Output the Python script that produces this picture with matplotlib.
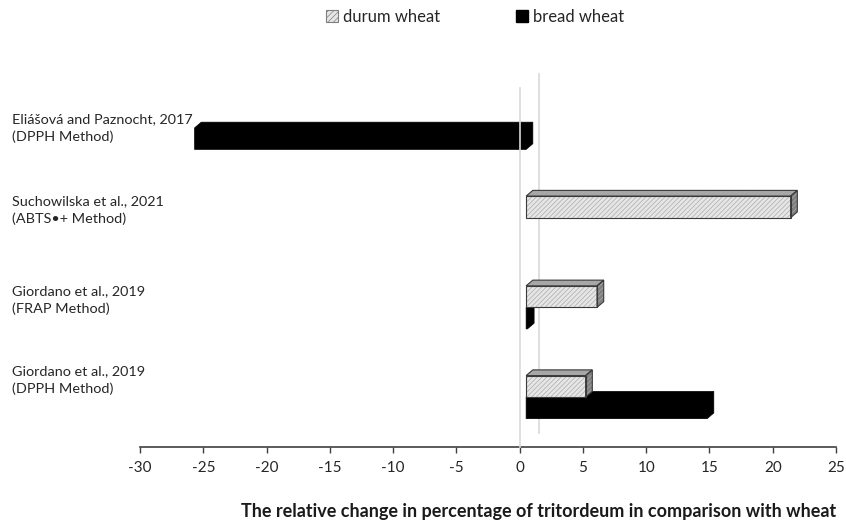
"""Relative change (%) of tritordeum vs. durum / bread wheat, drawn as
Excel-style 3D horizontal bars (front face + top face + side face)."""
import matplotlib
matplotlib.use("Agg")
import matplotlib.pyplot as plt
from matplotlib.patches import Polygon, Patch
from matplotlib.transforms import ScaledTranslation

plt.rcParams["font.family"] = ["Lato", "DejaVu Sans"]
plt.rcParams["hatch.linewidth"] = 0.5

# studies listed top to bottom
studies = [
    "Eliášová and Paznocht, 2017\n(DPPH Method)",
    "Suchowilska et al., 2021\n(ABTS•+ Method)",
    "Giordano et al., 2019\n(FRAP Method)",
    "Giordano et al., 2019\n(DPPH Method)",
]
durum = [None, 20.9, 5.6, 4.7]
bread = [-26.2, None, 0.1, 14.3]
xticks = list(range(-30, 30, 5))

W, H, DPI = 846, 524, 100
BAR_H = 0.24          # bar thickness in category units
DEPTH_PX = (6.7, 5.7)  # 3D depth of each bar, pixels
FRONT_PX = (6.5, 5.0)  # bar front plane offset from the floor edge, pixels
WALL_PX = (19.0, 14.0)  # back wall offset, pixels

fig = plt.figure(figsize=(W / DPI, H / DPI), dpi=DPI)
ax = fig.add_axes([140 / W, (H - 447) / H, 696 / W, 359 / H])
n = len(studies)
ax.set_xlim(-30, 25)
ax.set_ylim(-0.5, n - 0.5)


def px_shift(dx, dy):
    return ax.transData + ScaledTranslation(dx / DPI, dy / DPI, fig.dpi_scale_trans)


# depth in data units
p0 = ax.transData.transform((0, 0))
p1 = ax.transData.transform((1, 1))
ddx = DEPTH_PX[0] / (p1[0] - p0[0])
ddy = DEPTH_PX[1] / (p1[1] - p0[1])
front = px_shift(*FRONT_PX)

# zero lines on the floor front and the back wall
ax.plot([0, 0], [-0.5, n - 0.5], color="#d9d9d9", lw=1.2, zorder=1,
        transform=px_shift(*WALL_PX), clip_on=False)
ax.plot([0, 0], [-0.5, n - 0.5], color="#d9d9d9", lw=1.2, zorder=6,
        clip_on=False)


def bar3d(y0, value, kind, z):
    if value is None:
        return
    lo, hi = min(0, value), max(0, value)
    y1 = y0 + BAR_H
    if kind == "bread":
        # solid black: one outline for the whole box
        outline = [(lo, y0), (hi, y0), (hi + ddx, y0 + ddy), (hi + ddx, y1 + ddy),
                   (lo + ddx, y1 + ddy), (lo, y1)]
        ax.add_patch(Polygon(outline, closed=True, facecolor="black",
                             edgecolor="black", lw=0.5, transform=front,
                             zorder=z, clip_on=False))
        return
    front_face = [(lo, y0), (hi, y0), (hi, y1), (lo, y1)]
    top_face = [(lo, y1), (hi, y1), (hi + ddx, y1 + ddy), (lo + ddx, y1 + ddy)]
    side_face = [(hi, y0), (hi + ddx, y0 + ddy), (hi + ddx, y1 + ddy), (hi, y1)]
    faces = [(top_face, "#a6a6a6"), (side_face, "#7f7f7f"), (front_face, "#e6e6e6")]
    for face, fc in faces:
        ax.add_patch(Polygon(face, closed=True, facecolor=fc, edgecolor="#ababab",
                             lw=0, hatch="///////", transform=front, zorder=z,
                             clip_on=False))
        ax.add_patch(Polygon(face, closed=True, facecolor="none",
                             edgecolor="#3a3a3a", lw=0.8, transform=front,
                             zorder=z + 0.1, clip_on=False))


for i in range(n):
    yc = n - 1 - i
    bar3d(yc - BAR_H, bread[i], "bread", 3)
    bar3d(yc, durum[i], "durum", 4)

# axis styling
for side in ("top", "right", "left"):
    ax.spines[side].set_visible(False)
ax.spines["bottom"].set_color("#404040")
ax.spines["bottom"].set_linewidth(1.2)
ax.set_yticks([])
ax.set_xticks(xticks)
ax.set_xticklabels([str(t) for t in xticks])
ax.tick_params(axis="x", direction="out", length=4, width=1, color="#404040",
               labelsize=11, labelcolor="#262626", pad=6)

# study labels on the left
label_y_px = [128, 210, 300, 380]
for txt, ypx in zip(studies, label_y_px):
    fig.text(12 / W, 1 - ypx / H, txt, ha="left", va="center", fontsize=10.4,
             color="#262626", linespacing=1.5)

fig.text(539 / W, 1 - 512 / H,
         "The relative change in percentage of tritordeum in comparison with wheat",
         ha="center", va="center", fontsize=13, fontweight="bold", color="#1a1a1a")

handles = [
    Patch(facecolor="#e6e6e6", edgecolor="#7f7f7f", hatch="//////", lw=0.8,
          label="durum wheat"),
    Patch(facecolor="black", edgecolor="black", label="bread wheat"),
]
fig.legend(handles=handles, loc="center", bbox_to_anchor=(475 / W, 1 - 17 / H),
           ncol=2, frameon=False, fontsize=12, handlelength=0.75,
           handleheight=0.75, handletextpad=0.3, columnspacing=4.5,
           labelcolor="#262626")

fig.savefig("out.png", dpi=DPI)
